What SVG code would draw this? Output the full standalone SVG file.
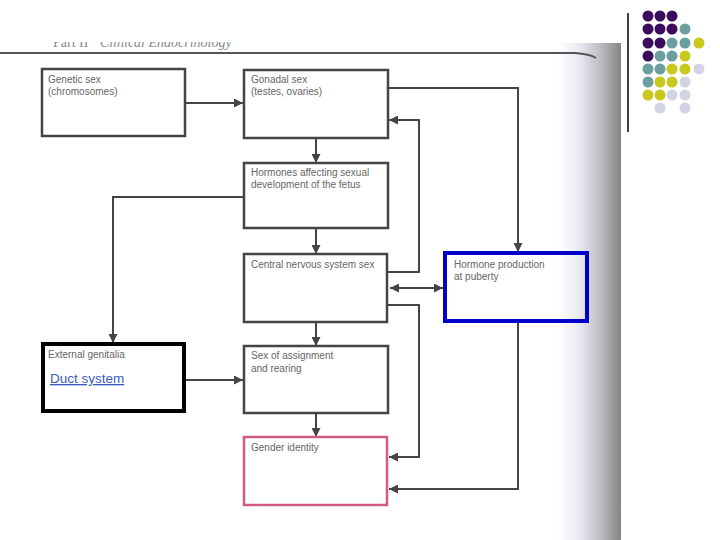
<svg xmlns="http://www.w3.org/2000/svg" width="720" height="540" viewBox="0 0 720 540">
<defs>
<linearGradient id="band" x1="0" y1="0" x2="1" y2="0">
<stop offset="0" stop-color="#ffffff"/>
<stop offset="0.35" stop-color="#e8e8f0"/>
<stop offset="0.7" stop-color="#b8b8be"/>
<stop offset="1" stop-color="#848484"/>
</linearGradient>
<clipPath id="hdr"><rect x="0" y="42" width="600" height="15"/></clipPath>
<marker id="ah" viewBox="0 0 10 10" refX="10" refY="5" markerWidth="9" markerHeight="9" markerUnits="userSpaceOnUse" orient="auto-start-reverse">
<path d="M0,0 L10,5 L0,10 z" fill="#444"/>
</marker>
<style>
.box{fill:#fff;stroke:#444;stroke-width:2.5}
.lbl{font-family:"Liberation Sans",Arial,sans-serif;font-size:10px;fill:#666}
.con{fill:none;stroke:#444;stroke-width:2;marker-end:url(#ah)}
.p{fill:#3b0c5c}.t{fill:#6b9e9e}.y{fill:#c9c81f}.l{fill:#d3d3e6}
</style>
</defs>
<rect width="720" height="540" fill="#fff"/>
<g id="page">
<rect x="558" y="43" width="63" height="497" fill="url(#band)"/>
<g clip-path="url(#hdr)">
<text x="53" y="47" font-family="Liberation Serif,serif" font-size="14" fill="#8a8a8a">Part II <tspan font-style="italic" dx="8">Clinical Endocrinology</tspan></text>
</g>
<path d="M0,53 L575,53 Q590,54 596,58" fill="none" stroke="#555" stroke-width="1.8"/>
<line x1="628" y1="13" x2="628" y2="132" stroke="#000" stroke-width="1.5"/>
</g>
<g id="dots">
<circle class="p" cx="648" cy="16" r="5.5"/><circle class="p" cx="660" cy="16" r="5.5"/><circle class="p" cx="672" cy="16" r="5.5"/>
<circle class="p" cx="648" cy="29" r="5.5"/><circle class="p" cx="660" cy="29" r="5.5"/><circle class="p" cx="672" cy="29" r="5.5"/><circle class="t" cx="685" cy="29" r="5.5"/>
<circle class="p" cx="648" cy="43" r="5.5"/><circle class="p" cx="660" cy="43" r="5.5"/><circle class="t" cx="672" cy="43" r="5.5"/><circle class="t" cx="685" cy="43" r="5.5"/><circle class="y" cx="699" cy="43" r="5.5"/>
<circle class="p" cx="648" cy="56" r="5.5"/><circle class="t" cx="660" cy="56" r="5.5"/><circle class="t" cx="672" cy="56" r="5.5"/><circle class="y" cx="685" cy="56" r="5.5"/>
<circle class="t" cx="648" cy="69" r="5.5"/><circle class="t" cx="660" cy="69" r="5.5"/><circle class="y" cx="672" cy="69" r="5.5"/><circle class="y" cx="685" cy="69" r="5.5"/><circle class="l" cx="699" cy="69" r="5.5"/>
<circle class="t" cx="648" cy="82" r="5.5"/><circle class="y" cx="660" cy="82" r="5.5"/><circle class="y" cx="672" cy="82" r="5.5"/><circle class="l" cx="685" cy="82" r="5.5"/>
<circle class="y" cx="648" cy="95" r="5.5"/><circle class="y" cx="660" cy="95" r="5.5"/><circle class="l" cx="672" cy="95" r="5.5"/><circle class="l" cx="685" cy="95" r="5.5"/>
<circle class="l" cx="660" cy="108" r="5.5"/><circle class="l" cx="685" cy="108" r="5.5"/>
</g>
<g id="connectors">
<path class="con" d="M185,103 H243"/>
<path class="con" d="M388,88 H518 V252"/>
<path class="con" d="M387,272 H419 V120 H389"/>
<path class="con" d="M390,288 H443" marker-start="url(#ah)"/>
<path class="con" d="M387,305 H419 V457 H389"/>
<path class="con" d="M518,322 V489 H389"/>
<path class="con" d="M316,138 V163"/>
<path class="con" d="M316,228 V254"/>
<path class="con" d="M316,322 V346"/>
<path class="con" d="M316,413 V437"/>
<path class="con" d="M243,197 H113 V343"/>
<path class="con" d="M185,380 H243"/>
</g>
<g id="genetic">
<rect class="box" x="42" y="69" width="143" height="67"/>
<text class="lbl" x="48" y="83">Genetic sex</text>
<text class="lbl" x="48" y="95">(chromosomes)</text>
</g>
<g id="gonadal">
<rect class="box" x="244" y="70" width="144" height="68"/>
<text class="lbl" x="251" y="83">Gonadal sex</text>
<text class="lbl" x="251" y="95">(testes, ovaries)</text>
</g>
<g id="hormones-fetus">
<rect class="box" x="244" y="163" width="144" height="65"/>
<text class="lbl" x="251" y="176">Hormones affecting sexual</text>
<text class="lbl" x="251" y="188">development of the fetus</text>
</g>
<g id="cns">
<rect class="box" x="244" y="254" width="143" height="68"/>
<text class="lbl" x="251" y="268">Central nervous system sex</text>
</g>
<g id="puberty">
<rect x="445" y="253" width="142" height="68" fill="none" stroke="#0000c8" stroke-width="4"/>
<text class="lbl" x="454" y="268">Hormone production</text>
<text class="lbl" x="454" y="280">at puberty</text>
</g>
<g id="external">
<rect x="43" y="344" width="141" height="67" fill="#fff" stroke="#000" stroke-width="4"/>
<text class="lbl" x="48" y="358" fill="#555">External genitalia</text>
<text x="50" y="383" font-family="Liberation Sans,Arial,sans-serif" font-size="13.5" fill="#3a5cc0" text-decoration="underline">Duct system</text>
</g>
<g id="assignment">
<rect class="box" x="244" y="346" width="144" height="67"/>
<text class="lbl" x="251" y="359">Sex of assignment</text>
<text class="lbl" x="251" y="372">and rearing</text>
</g>
<g id="gender">
<rect x="244" y="437" width="143" height="68" fill="#fff" stroke="#d35b80" stroke-width="2.5"/>
<text class="lbl" x="251" y="451" fill="#d06a8a">Gender identity</text>
</g>
</svg>
